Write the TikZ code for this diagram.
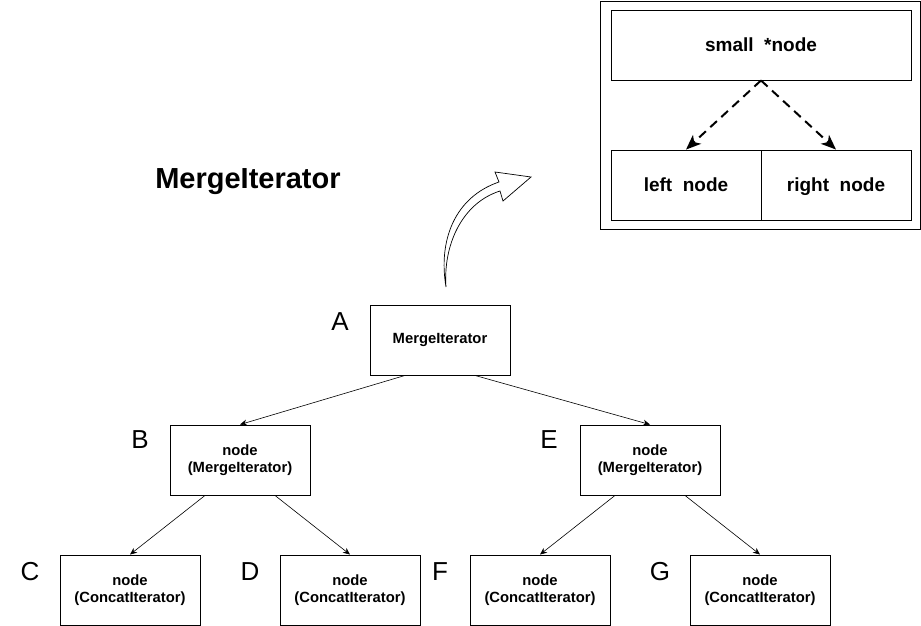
\documentclass[tikz,border=0pt]{standalone}
\usepackage{fontspec}
\setmainfont{Liberation Sans}
\usetikzlibrary{arrows.meta}
\begin{document}
\begin{tikzpicture}[x=1pt, y=-1pt,
  treebox/.style={draw, line width=0.9pt, minimum width=140pt, minimum height=70pt, inner sep=0pt, align=center, font=\fontsize{14.8}{17}\selectfont\bfseries},
  innerbox/.style={draw, line width=0.9pt, minimum height=70pt, inner sep=0pt, text height=13.6pt, text depth=0pt, font=\fontsize{19}{20}\selectfont\bfseries},
  tag/.style={font=\fontsize{26}{26}\selectfont},
  treearrow/.style={-{Stealth[length=7pt,width=6pt]}, line width=0.6pt},
  dasharrow/.style={-{Stealth[length=15pt,width=12pt,inset=4pt]}, line width=2pt, dash pattern=on 9pt off 6pt}]
  \useasboundingbox (0,0) rectangle (921,626);

  % title and tree
  \node[font=\fontsize{29}{29}\selectfont\bfseries] (title) at (248,182) {MergeIterator};
  \node[treebox] (A) at (440,340) {MergeIterator};
  \node[treebox] (B) at (240,460) {node\\(MergeIterator)};
  \node[treebox] (E) at (650,460) {node\\(MergeIterator)};
  \node[treebox] (C) at (130,590) {node\\(ConcatIterator)};
  \node[treebox] (D) at (350,590) {node\\(ConcatIterator)};
  \node[treebox] (F) at (540,590) {node\\(ConcatIterator)};
  \node[treebox] (G) at (760,590) {node\\(ConcatIterator)};

  \node[tag] (labA) at (340,322) {A};
  \node[tag] (labB) at (140,440) {B};
  \node[tag] (labE) at (549,440) {E};
  \node[tag] (labC) at (30,572) {C};
  \node[tag] (labD) at (250,572) {D};
  \node[tag] (labF) at (440,572) {F};
  \node[tag] (labG) at (660,572) {G};

  \draw[treearrow] ([xshift=-35pt]A.south) -- (B.north);
  \draw[treearrow] ([xshift=35pt]A.south) -- (E.north);
  \draw[treearrow] ([xshift=-35pt]B.south) -- (C.north);
  \draw[treearrow] ([xshift=35pt]B.south) -- (D.north);
  \draw[treearrow] ([xshift=-35pt]E.south) -- (F.north);
  \draw[treearrow] ([xshift=35pt]E.south) -- (G.north);

  % curved hollow arrow
  \draw[line width=0.7pt, fill=white] (446,287) .. controls (438,240) and (455,197) .. (499,182)
    -- (495,172) -- (531,177) -- (503,201) -- (500,191)
    .. controls (462,203) and (443,245) .. (446,287) -- cycle;

  % inset
  \draw[line width=0.9pt] (600,1) rectangle (920,229);
  \node[innerbox, minimum width=300pt] (small) at (761,45) {small\ \ *node};
  \node[innerbox, minimum width=150pt] (left) at (686,185) {left\ \ node};
  \node[innerbox, minimum width=150pt] (right) at (836,185) {right\ \ node};
  \draw[dasharrow] (small.south) -- (left.north);
  \draw[dasharrow] (small.south) -- (right.north);
\end{tikzpicture}
\end{document}
